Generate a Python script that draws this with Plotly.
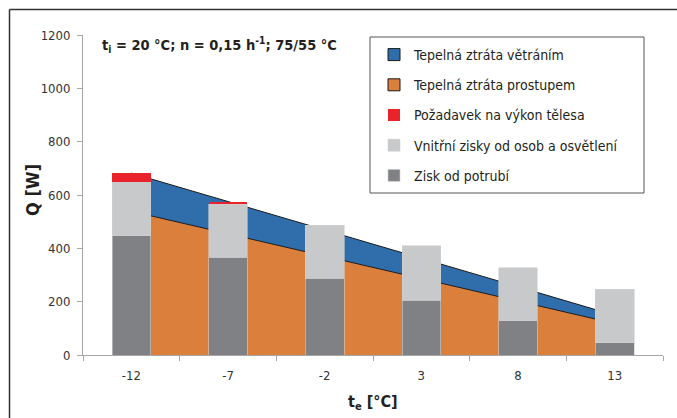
import plotly.graph_objects as go

categories = ["-12", "-7", "-2", "3", "8", "13"]
# heat losses (area series)
loss_transmission = [539, 455, 370, 286, 202, 118]   # Tepelná ztráta prostupem
loss_ventilation = [143, 121, 99, 76, 54, 31]        # Tepelná ztráta větráním
# gains / requirement (stacked columns)
gain_pipes = [447, 366, 287, 206, 129, 46]           # Zisk od potrubí
gain_internal = [203, 200, 200, 203, 198, 201]       # Vnitřní zisky od osob a osvětlení
req_body = [33, 8, 0, 0, 0, 0]                       # Požadavek na výkon tělesa
y_ticks = [0, 200, 400, 600, 800, 1000, 1200]

FONT = "Liberation Sans Narrow, Arial Narrow, DejaVu Sans Condensed, Liberation Sans, sans-serif"
C_BLUE = "#306EAB"
C_ORANGE = "#DB7F3C"
C_RED = "#E8242A"
C_LGRAY = "#C8C9CB"
C_DGRAY = "#808184"

total_loss = [a + b for a, b in zip(loss_transmission, loss_ventilation)]

fig = go.Figure()

# areas on main axes (drawn below)
fig.add_trace(go.Scatter(
    x=categories, y=loss_transmission, mode="lines", fill="tozeroy",
    fillcolor=C_ORANGE, line=dict(color="#1a1a1a", width=1),
    showlegend=False, hoverinfo="skip", xaxis="x", yaxis="y"))
fig.add_trace(go.Scatter(
    x=categories, y=total_loss, mode="lines", fill="tonexty",
    fillcolor=C_BLUE, line=dict(color="#1a1a1a", width=1),
    showlegend=False, hoverinfo="skip", xaxis="x", yaxis="y"))

# stacked columns on overlay axes (drawn above areas)
bar_line = dict(color="#d0d0d0", width=0.6)
fig.add_trace(go.Bar(x=categories, y=gain_pipes, name="Zisk od potrubí",
                     marker=dict(color=C_DGRAY, line=bar_line), width=0.4,
                     xaxis="x2", yaxis="y2", legendrank=5, legendgroup="g5"))
fig.add_trace(go.Bar(x=categories, y=gain_internal, name="Vnitřní zisky od osob a osvětlení",
                     marker=dict(color=C_LGRAY, line=bar_line), width=0.4,
                     xaxis="x2", yaxis="y2", legendrank=4, legendgroup="g4"))
fig.add_trace(go.Bar(x=categories, y=req_body, name="Požadavek na výkon tělesa",
                     marker=dict(color=C_RED, line=dict(width=0)), width=0.4,
                     xaxis="x2", yaxis="y2", legendrank=3, legendgroup="g3"))

# legend entries for the areas
fig.add_trace(go.Bar(x=[None], y=[None], name="Tepelná ztráta větráním",
                     marker=dict(color=C_BLUE, line=dict(color="#1a1a1a", width=1)),
                     xaxis="x2", yaxis="y2", legendrank=1, legendgroup="g1"))
fig.add_trace(go.Bar(x=[None], y=[None], name="Tepelná ztráta prostupem",
                     marker=dict(color=C_ORANGE, line=dict(color="#1a1a1a", width=1)),
                     xaxis="x2", yaxis="y2", legendrank=2, legendgroup="g2"))

L, R, T, B = 83, 14, 35, 63
W, H = 677, 418
pw, ph = W - L - R, H - T - B

def px(x):
    return (x - L) / pw

def py(y):
    return (H - B - y) / ph

axis_common = dict(showgrid=False, zeroline=False)
fig.update_layout(
    width=W, height=H,
    margin=dict(l=L, r=R, t=T, b=B, autoexpand=False),
    paper_bgcolor="white", plot_bgcolor="white",
    barmode="stack",
    font=dict(family=FONT, size=13, color="#333333"),
    xaxis=dict(type="category", categoryorder="array", categoryarray=categories,
               range=[-0.5, 5.5], tickson="boundaries", ticks="outside", ticklen=5,
               tickcolor="#a6a6a6", showline=True, linecolor="#a6a6a6", linewidth=1,
               tickfont=dict(size=13, color="#333333"), ticklabelstandoff=8, **axis_common),
    yaxis=dict(range=[0, 1200], tickvals=y_ticks, ticks="outside", ticklen=5,
               tickcolor="#a6a6a6", showline=True, linecolor="#a6a6a6", linewidth=1,
               tickfont=dict(size=13, color="#333333"), ticklabelstandoff=4, **axis_common),
    xaxis2=dict(type="category", categoryorder="array", categoryarray=categories,
                range=[-0.5, 5.5], overlaying="x", visible=False, **axis_common),
    yaxis2=dict(range=[0, 1200], overlaying="y", visible=False, **axis_common),
    legend=dict(x=px(374), y=py(39), xanchor="left", yanchor="top",
                traceorder="grouped", tracegroupgap=9,
                font=dict(family=FONT, size=14, color="#231F20"),
                bgcolor="rgba(0,0,0,0)", borderwidth=0),
    showlegend=True,
)

# legend frame and outer chart frame
fig.add_shape(type="rect", xref="paper", yref="paper",
              x0=px(370), x1=px(644), y0=py(193), y1=py(37),
              line=dict(color="#555555", width=1), fillcolor="white", layer="below")
fig.add_shape(type="line", xref="paper", yref="paper",
              x0=px(9.5), x1=px(690), y0=py(9.5), y1=py(9.5),
              line=dict(color="#333333", width=1.5))
fig.add_shape(type="line", xref="paper", yref="paper",
              x0=px(9.5), x1=px(9.5), y0=py(9.5), y1=py(430),
              line=dict(color="#333333", width=1.5))

# title and axis titles
fig.add_annotation(xref="paper", yref="paper", x=px(100), y=py(45),
                   xanchor="left", yanchor="middle", showarrow=False,
                   text="<b>t<sub>i</sub> = 20 °C; n = 0,15 h<sup>-1</sup>; 75/55 °C</b>",
                   font=dict(family=FONT, size=14.5, color="#231F20"))
fig.add_annotation(xref="paper", yref="paper", x=px(32), y=py(190),
                   xanchor="center", yanchor="middle", showarrow=False, textangle=-90,
                   text="<b>Q [W]</b>",
                   font=dict(family=FONT, size=18, color="#231F20"))
fig.add_annotation(xref="paper", yref="paper", x=px(373), y=py(402),
                   xanchor="center", yanchor="middle", showarrow=False,
                   text="<b>t<sub>e</sub> [°C]</b>",
                   font=dict(family=FONT, size=16, color="#231F20"))

fig.write_html("out.html", post_script="document.body.style.margin='0';",
               config={"displayModeBar": False})
